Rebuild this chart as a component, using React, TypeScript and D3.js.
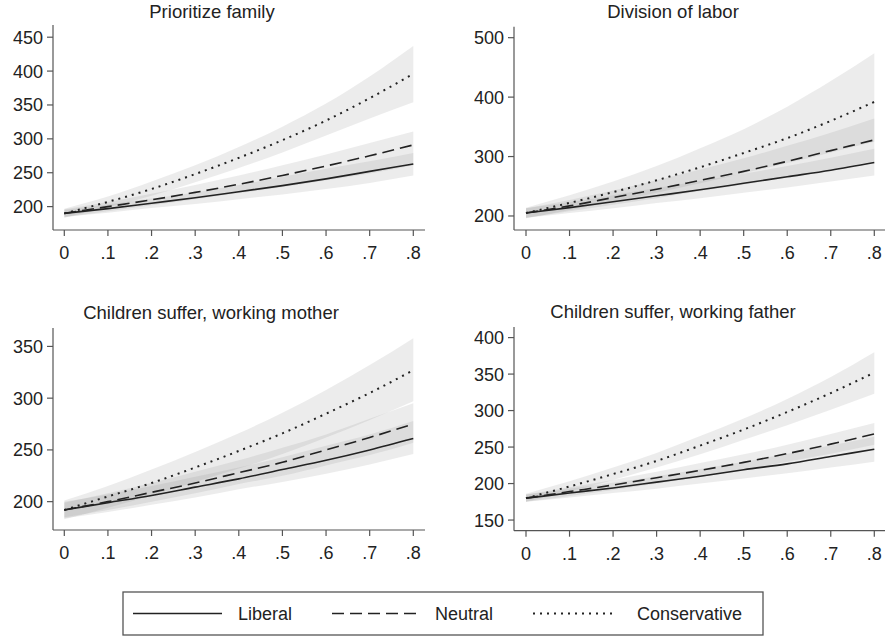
import React from "react";
import * as d3 from "d3";

// x grid shared by every panel
const xVals = [0, 0.1, 0.2, 0.3, 0.4, 0.5, 0.6, 0.7, 0.8];
const xTickLabels = ["0", ".1", ".2", ".3", ".4", ".5", ".6", ".7", ".8"];
const seriesNames = ["Liberal", "Neutral", "Conservative"];

// Prioritize family
const famLib = [190, 197, 205, 213, 222, 231, 241, 252, 263];
const famLibLo = [185, 191, 198, 204, 211, 218, 226, 235, 246];
const famLibHi = [195, 203, 212, 221, 232, 244, 256, 267, 279];
const famNeu = [190, 200, 210, 221, 233, 246, 260, 275, 291];
const famNeuLo = [184, 193, 202, 211, 220, 229, 239, 249, 261];
const famNeuHi = [196, 207, 219, 232, 246, 261, 277, 294, 311];
const famCon = [190, 207, 226, 248, 272, 298, 327, 360, 396];
const famConLo = [184, 199, 216, 236, 257, 280, 305, 330, 354];
const famConHi = [197, 215, 237, 261, 288, 318, 352, 392, 437];

// Division of labor
const divLib = [205, 214, 224, 234, 244, 255, 266, 277, 290];
const divLibLo = [197, 205, 213, 222, 230, 239, 248, 258, 268];
const divLibHi = [213, 223, 235, 247, 259, 271, 284, 298, 313];
const divNeu = [205, 217, 231, 245, 260, 275, 292, 310, 328];
const divNeuLo = [197, 208, 219, 230, 242, 253, 265, 278, 292];
const divNeuHi = [213, 227, 243, 260, 278, 297, 318, 340, 364];
const divCon = [205, 222, 240, 260, 282, 306, 331, 360, 392];
const divConLo = [196, 210, 224, 239, 255, 272, 289, 307, 325];
const divConHi = [214, 235, 258, 284, 314, 346, 384, 427, 474];

// Children suffer, working mother
const momLib = [192, 199, 206, 214, 222, 231, 240, 250, 261];
const momLibLo = [184, 190, 197, 204, 212, 219, 227, 236, 246];
const momLibHi = [200, 207, 215, 224, 233, 243, 254, 265, 278];
const momNeu = [192, 200, 209, 218, 228, 238, 250, 262, 275];
const momNeuLo = [185, 192, 200, 208, 217, 225, 235, 245, 257];
const momNeuHi = [199, 208, 218, 229, 240, 252, 265, 280, 295];
const momCon = [192, 205, 218, 233, 249, 266, 285, 305, 327];
const momConLo = [183, 194, 206, 219, 232, 246, 262, 279, 297];
const momConHi = [201, 215, 231, 248, 266, 286, 308, 332, 358];

// Children suffer, working father
const dadLib = [180, 187, 194, 202, 210, 219, 227, 237, 247];
const dadLibLo = [175, 181, 187, 193, 200, 207, 214, 222, 230];
const dadLibHi = [185, 193, 201, 210, 220, 230, 241, 252, 264];
const dadNeu = [180, 189, 198, 208, 218, 229, 241, 254, 268];
const dadNeuLo = [175, 183, 191, 200, 209, 219, 230, 241, 253];
const dadNeuHi = [185, 195, 205, 216, 228, 240, 253, 268, 283];
const dadCon = [180, 196, 213, 231, 252, 274, 298, 324, 352];
const dadConLo = [175, 189, 205, 222, 240, 260, 280, 301, 323];
const dadConHi = [186, 203, 222, 242, 265, 289, 316, 346, 380];

const panelTitles = [
  "Prioritize family",
  "Division of labor",
  "Children suffer, working mother",
  "Children suffer, working father",
];
const panelYTicks = [
  [200, 250, 300, 350, 400, 450],
  [200, 300, 400, 500],
  [200, 250, 300, 350],
  [150, 200, 250, 300, 350, 400],
];

const panels = [
  {
    title: panelTitles[0], yTicks: panelYTicks[0],
    series: [[famLib, famLibLo, famLibHi], [famNeu, famNeuLo, famNeuHi], [famCon, famConLo, famConHi]],
  },
  {
    title: panelTitles[1], yTicks: panelYTicks[1],
    series: [[divLib, divLibLo, divLibHi], [divNeu, divNeuLo, divNeuHi], [divCon, divConLo, divConHi]],
  },
  {
    title: panelTitles[2], yTicks: panelYTicks[2],
    series: [[momLib, momLibLo, momLibHi], [momNeu, momNeuLo, momNeuHi], [momCon, momConLo, momConHi]],
  },
  {
    title: panelTitles[3], yTicks: panelYTicks[3],
    series: [[dadLib, dadLibLo, dadLibHi], [dadNeu, dadNeuLo, dadNeuHi], [dadCon, dadConLo, dadConHi]],
  },
];

// layout of each panel in pixels
const layout = [
  { left: 53, right: 425, top: 25, bottom: 230, x0: 64.3, x1: 413.3, yDom: [165.5, 468], titleX: 212, titleY: 18 },
  { left: 514, right: 885, top: 26.7, bottom: 230, x0: 526, x1: 874.3, yDom: [176.4, 518.5], titleX: 673, titleY: 18 },
  { left: 53, right: 425, top: 328, bottom: 530, x0: 64.3, x1: 413.3, yDom: [172.6, 367.8], titleX: 211, titleY: 319 },
  { left: 514, right: 885, top: 327, bottom: 530.7, x0: 526, x1: 874.3, yDom: [135.4, 414.5], titleX: 673, titleY: 318 },
];

const dashes = [null, "12,6", "2,5"];
const widths = [1.6, 1.6, 2];
const ink = "#222";
const axisCol = "#555";
const font = "'Liberation Sans', Arial, sans-serif";

function Panel({ p, l }: any) {
  const x = d3.scaleLinear().domain([0, 0.8]).range([l.x0, l.x1]);
  const y = d3.scaleLinear().domain(l.yDom).range([l.bottom, l.top]);

  const line = d3.line<number>()
    .x((d, i) => x(xVals[i]))
    .y((d) => y(d))
    .curve(d3.curveMonotoneX);

  const area = (lo: number[], hi: number[]) =>
    d3.area<number>()
      .x((d, i) => x(xVals[i]))
      .y0((d, i) => y(lo[i]))
      .y1((d, i) => y(hi[i]))
      .curve(d3.curveMonotoneX)(xVals);

  return (
    <g>
      {/* confidence bands */}
      {p.series.map((s: number[][], i: number) => (
        <path key={"b" + i} d={area(s[1], s[2]) || ""} fill="#888" fillOpacity={0.16} stroke="none" />
      ))}
      {/* fitted lines */}
      {p.series.map((s: number[][], i: number) => (
        <path key={"l" + i} d={line(s[0]) || ""} fill="none" stroke={ink} strokeWidth={widths[i]}
          strokeDasharray={dashes[i] || undefined} />
      ))}

      {/* axes */}
      <line x1={l.left} x2={l.left} y1={l.top} y2={l.bottom} stroke={axisCol} strokeWidth={1.2} />
      <line x1={l.left} x2={l.right} y1={l.bottom} y2={l.bottom} stroke={axisCol} strokeWidth={1.2} />

      {p.yTicks.map((t: number) => (
        <g key={"y" + t}>
          <line x1={l.left - 6} x2={l.left} y1={y(t)} y2={y(t)} stroke={axisCol} strokeWidth={1.2} />
          <text x={l.left - 10} y={y(t)} dy="0.36em" textAnchor="end" fontSize={18} fill={ink}
            fontFamily={font}>{t}</text>
        </g>
      ))}
      {xVals.map((v, i) => (
        <g key={"x" + i}>
          <line x1={x(v)} x2={x(v)} y1={l.bottom} y2={l.bottom + 6} stroke={axisCol} strokeWidth={1.2} />
          <text x={x(v)} y={l.bottom + 29} textAnchor="middle" fontSize={18} fill={ink}
            fontFamily={font}>{xTickLabels[i]}</text>
        </g>
      ))}

      <text x={l.titleX} y={l.titleY} textAnchor="middle" fontSize={18.5} fill={ink} fontFamily={font}>
        {p.title}
      </text>
    </g>
  );
}

// legend entries: line start/end and label x
const legendItems = [
  { x1: 133, x2: 222, tx: 238 },
  { x1: 332, x2: 420, tx: 435 },
  { x1: 533, x2: 615, tx: 637 },
];

export default function App() {
  return (
    <svg width={885} height={636} style={{ position: "absolute", left: 0, top: 0, background: "#fff" }}>
      <rect x={0} y={0} width={885} height={636} fill="#fff" />
      {panels.map((p, i) => (
        <Panel key={i} p={p} l={layout[i]} />
      ))}

      <rect x={123} y={592} width={640} height={43} fill="none" stroke={axisCol} strokeWidth={1.3} />
      {seriesNames.map((name, i) => (
        <g key={name}>
          <line x1={legendItems[i].x1} x2={legendItems[i].x2} y1={613.5} y2={613.5} stroke={ink}
            strokeWidth={widths[i]} strokeDasharray={dashes[i] || undefined} />
          <text x={legendItems[i].tx} y={620} fontSize={18} fill={ink} fontFamily={font}>{name}</text>
        </g>
      ))}
    </svg>
  );
}
